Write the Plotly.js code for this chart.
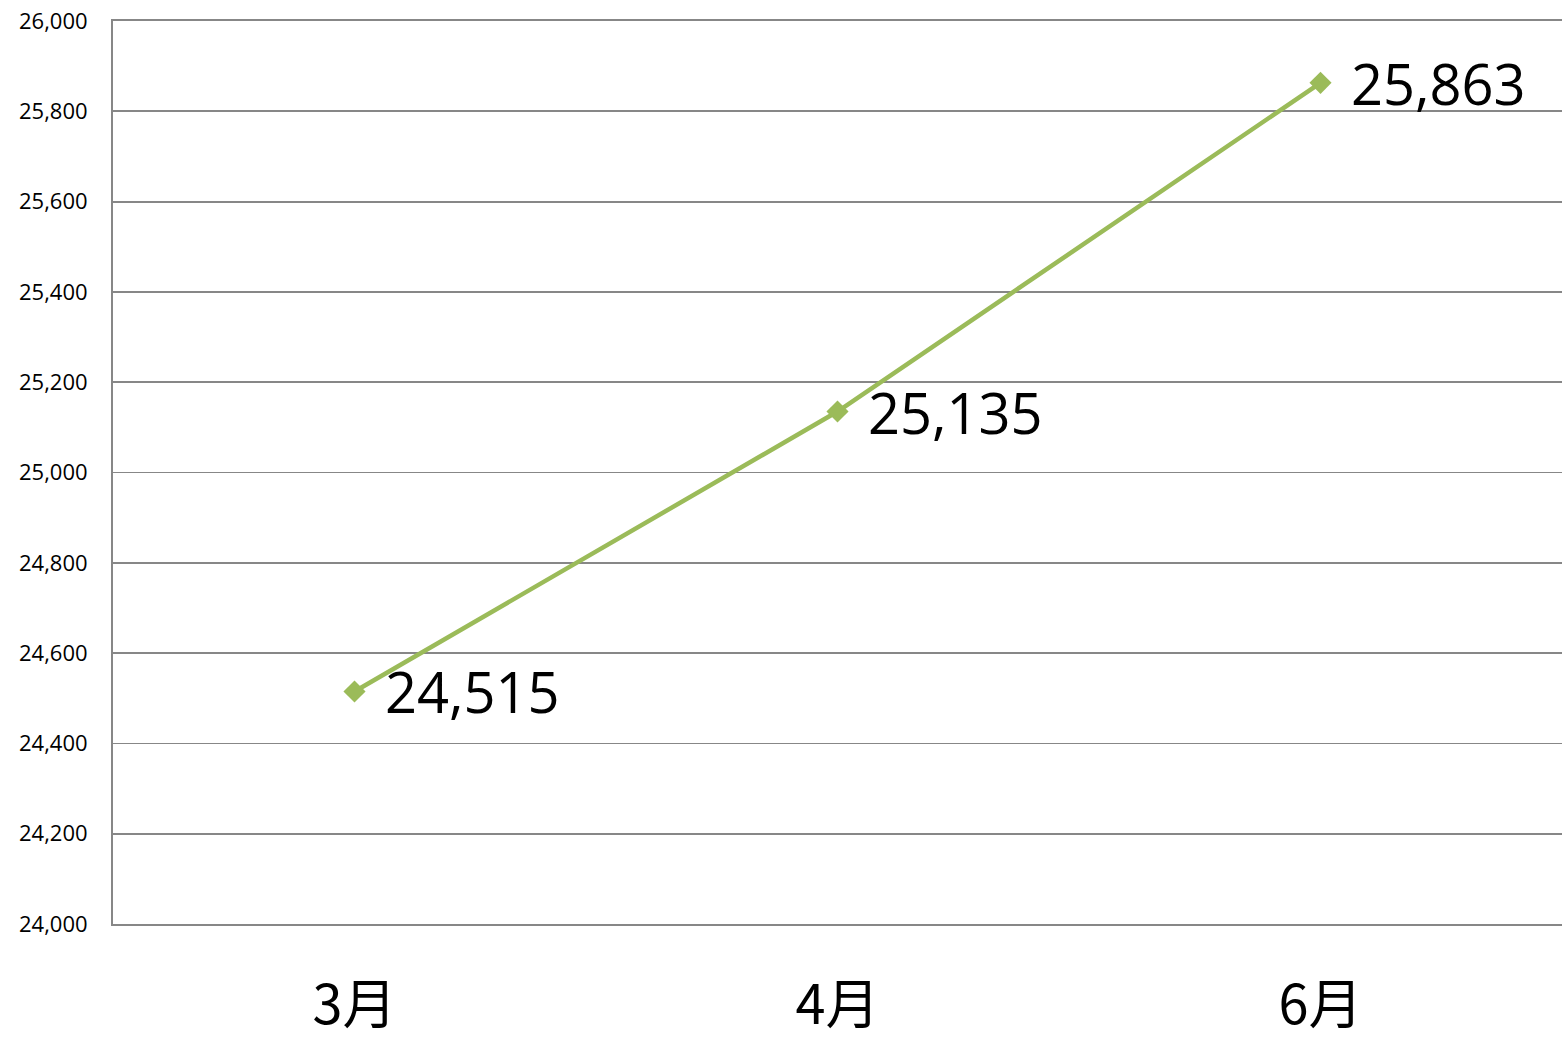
<!DOCTYPE html>
<html><head><meta charset="utf-8">
<script src="https://cdn.plot.ly/plotly-3.0.1.min.js"></script>
<style>html,body{margin:0;padding:0;background:#fff}#chart{width:1562px;height:1037px}</style>
</head><body><div id="chart"></div>
<script>
const categories = ['3月', '4月', '6月'];
const values = [24515, 25135, 25863];
const labels = ['24,515', '25,135', '25,863'];

const trace = {
  x: categories, y: values, type: 'scatter', mode: 'lines+markers',
  line: {color: '#9BBB59', width: 4.5},
  marker: {symbol: 'diamond', size: 17, color: '#9BBB59'},
  cliponaxis: false, hoverinfo: 'skip'
};
const annotations = categories.map((c, i) => ({
  x: c, y: values[i], xref: 'x', yref: 'y', text: labels[i], showarrow: false,
  xanchor: 'left', yanchor: 'middle', xshift: 28, yshift: 0,
  font: {family: 'Open Sans, Noto Sans, sans-serif', size: 56, color: '#000'}
}));
const layout = {
  width: 1562, height: 1037,
  margin: {l: 113, r: 0, t: 21, b: 113},
  paper_bgcolor: '#fff', plot_bgcolor: '#fff', showlegend: false,
  annotations: annotations,
  xaxis: {type: 'category', range: [-0.5, 2.5], showgrid: false, zeroline: false,
    showline: true, mirror: true, linecolor: '#878787', linewidth: 2, ticks: '', ticklabelstandoff: 33,
    tickfont: {family: 'Noto Sans CJK SC, sans-serif', size: 54, color: '#000'}},
  yaxis: {range: [24000, 26000], dtick: 200, tickformat: ',d', showgrid: true,
    gridcolor: '#878787', gridwidth: 1.8, zeroline: false, showline: true,
    linecolor: '#878787', linewidth: 2, ticks: '', ticklabelstandoff: 19,
    tickfont: {family: 'Open Sans, Noto Sans, sans-serif', size: 22, color: '#000'}}
};
Plotly.newPlot('chart', [trace], layout, {staticPlot: true});
</script></body></html>
